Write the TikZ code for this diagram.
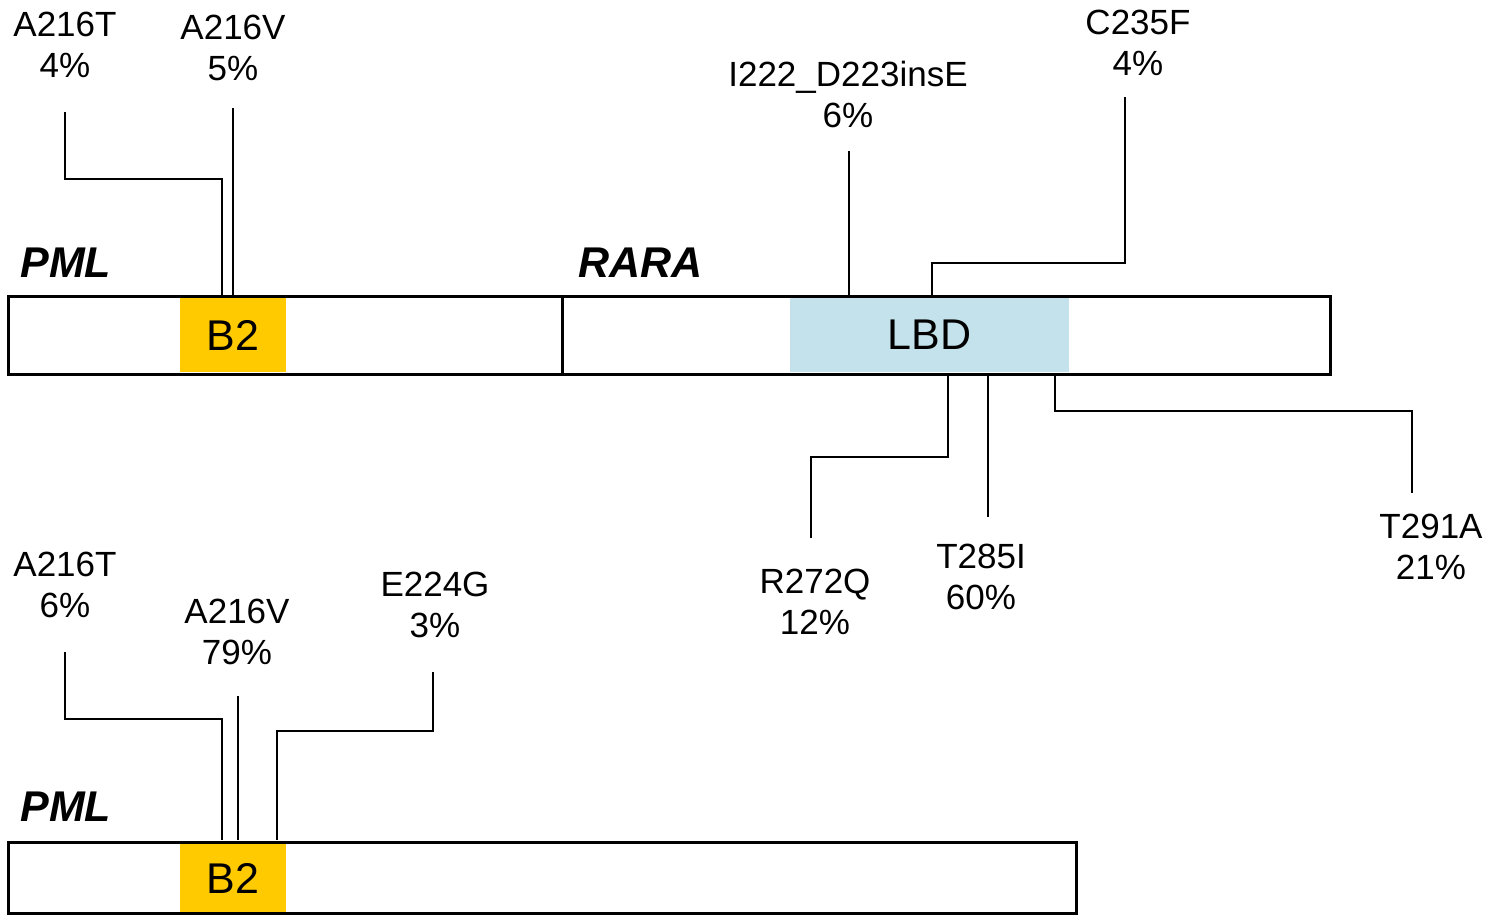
\documentclass[tikz,border=0pt]{standalone}
\usepackage{fontspec}
\setmainfont{Liberation Sans}
\usepackage{tikz}
\usetikzlibrary{positioning,calc}
\definecolor{bboxyellow}{RGB}{255,202,0}
\definecolor{lbdblue}{RGB}{195,226,235}

\begin{document}
\begin{tikzpicture}[
  x=0.5pt,y=-0.5pt,
  bar/.style={draw=black,line width=1.5pt},
  dom/.style={inner sep=0pt,minimum height=37pt,font=\fontsize{21.5}{24}\selectfont},
  gene/.style={anchor=west,inner sep=0pt,font=\fontsize{21.5}{24}\selectfont\bfseries\itshape},
  mut/.style={inner sep=0pt,align=center,font=\fontsize{17.5}{20.5}\selectfont},
  lnk/.style={draw=black,line width=1pt}
]
\useasboundingbox (0,0) rectangle (1488,915);
% PML-RARA
\node[dom,fill=bboxyellow,minimum width=53pt] (b2top) at (233,335) {B2};
\node[dom,fill=lbdblue,minimum width=139.5pt] (lbd) at (929.5,335) {LBD};
\draw[bar] (8,296) rectangle (1330,374);
\draw[bar] (562,296) -- (562,374);
\node[gene] (pmltop) at (20,263) {PML};
\node[gene] (rara) at (578,263) {RARA};
\node[mut] (a216t) at (65,45) {A216T\\4\%};
\node[mut] (a216v) at (233,48) {A216V\\5\%};
\node[mut] (i222) at (848,94) {I222\_D223insE\\6\%};
\node[mut] (c235f) at (1138,43) {C235F\\4\%};
\node[mut] (r272q) at (815,602) {R272Q\\12\%};
\node[mut] (t285i) at (981,577) {T285I\\60\%};
\node[mut] (t291a) at (1431,547) {T291A\\21\%};
\coordinate (ta216t) at (65,112);
\coordinate (ta216v) at (233,108);
\coordinate (ti222) at (849,151);
\coordinate (tc235f) at (1125,97);
\coordinate (tr272q) at (811,538);
\coordinate (tt285i) at (988,517);
\coordinate (tt291a) at (1412,493);
\coordinate (sa216t) at (222,296);
\coordinate (sa216v) at (233,296);
\coordinate (si222) at (849,296);
\coordinate (sc235f) at (932,296);
\coordinate (sr272q) at (948,374);
\coordinate (st285i) at (988,374);
\coordinate (st291a) at (1055,374);
\draw[lnk] (ta216t) -- ++(0,67) -| (sa216t);
\draw[lnk] (ta216v) -- (sa216v);
\draw[lnk] (ti222) -- (si222);
\draw[lnk] (tc235f) -- ++(0,166) -| (sc235f);
\draw[lnk] (tr272q) -- ++(0,-81) -| (sr272q);
\draw[lnk] (tt285i) -- (st285i);
\draw[lnk] (tt291a) -- ++(0,-82) -| (st291a);
% PML
\node[dom,fill=bboxyellow,minimum width=53pt,minimum height=35pt] (b2bot) at (233,878) {B2};
\draw[bar] (8,842) rectangle (1076,913);
\node[gene] (pmlbot) at (20,807) {PML};
\node[mut] (a216tb) at (65,585) {A216T\\6\%};
\node[mut] (a216vb) at (237,632) {A216V\\79\%};
\node[mut] (e224g) at (435,605) {E224G\\3\%};
\coordinate (ta216tb) at (65,652);
\coordinate (ta216vb) at (238,696);
\coordinate (te224g) at (433,672);
\coordinate (sa216tb) at (222,840);
\coordinate (sa216vb) at (238,840);
\coordinate (se224g) at (277,840);
\draw[lnk] (ta216tb) -- ++(0,67) -| (sa216tb);
\draw[lnk] (ta216vb) -- (sa216vb);
\draw[lnk] (te224g) -- ++(0,59) -| (se224g);
\end{tikzpicture}
\end{document}
